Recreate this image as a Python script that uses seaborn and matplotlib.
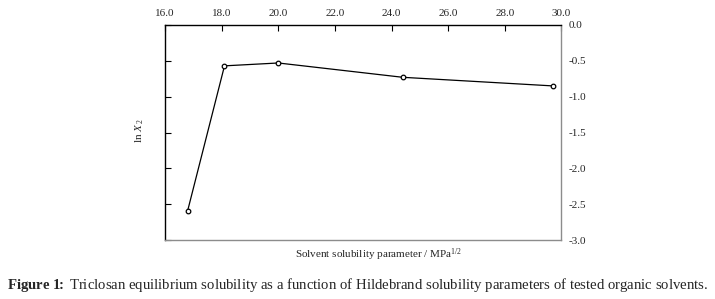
import pandas as pd
import matplotlib.pyplot as plt
import seaborn as sns

# solubility parameter (MPa^1/2) vs ln x2
delta = [16.8, 18.1, 20.0, 24.4, 29.7]
ln_x2 = [-2.59, -0.57, -0.53, -0.73, -0.85]
x_ticks = [16.0, 18.0, 20.0, 22.0, 24.0, 26.0, 28.0, 30.0]
y_ticks = [0.0, -0.5, -1.0, -1.5, -2.0, -2.5, -3.0]

df = pd.DataFrame({'delta': delta, 'ln_x2': ln_x2})

sns.set_style('white')
plt.rcParams['font.family'] = ['Liberation Serif', 'DejaVu Serif']
plt.rcParams['mathtext.fontset'] = 'custom'
plt.rcParams['mathtext.rm'] = 'Liberation Serif'
plt.rcParams['mathtext.it'] = 'Liberation Serif:italic'
plt.rcParams['mathtext.bf'] = 'Liberation Serif:bold'

fig = plt.figure(figsize=(7.15, 2.99), dpi=100)
ax = fig.add_axes([0.2308, 0.1973, 0.5545, 0.7191])

sns.lineplot(data=df, x='delta', y='ln_x2', ax=ax, color='black', linewidth=0.9,
             marker='o', markersize=3.3, markerfacecolor='white',
             markeredgecolor='black', markeredgewidth=0.9)

ax.set_xlim(16, 30)
ax.set_ylim(-3, 0)
ax.set_xticks(x_ticks)
ax.set_xticklabels([f'{v:.1f}' for v in x_ticks])
ax.set_yticks(y_ticks)
ax.set_yticklabels([f'{v:.1f}' for v in y_ticks])

ax.tick_params(axis='x', direction='in', length=4, width=0.8, labelsize=8, pad=5,
               top=True, bottom=False, labeltop=True, labelbottom=False, color='black')
ax.tick_params(axis='y', direction='in', length=4, width=0.8, labelsize=8, pad=5,
               left=True, right=False, labelleft=False, labelright=True, color='black')

for side, col in [('left', 'black'), ('top', 'black'), ('right', '#8c8c8c'), ('bottom', '#8c8c8c')]:
    ax.spines[side].set_visible(True)
    ax.spines[side].set_color(col)
    ax.spines[side].set_linewidth(1.0)

ax.set_xlabel('')
ax.set_ylabel('')

fig.text(0.529, 0.147, r'Solvent solubility parameter / MPa$^{1/2}$', ha='center', va='center',
         fontsize=8)
fig.text(0.196, 0.562, r'ln $X_{\,\mathrm{2}}$', ha='center', va='center', rotation=90, fontsize=8)

fig.text(0.5, 0.047, r'$\mathbf{Figure\ 1\!\!:}$ Triclosan equilibrium solubility as a function of Hildebrand '
         'solubility parameters of tested organic solvents.', ha='center', va='center', fontsize=10.6)

fig.savefig('out.png', dpi=100)
